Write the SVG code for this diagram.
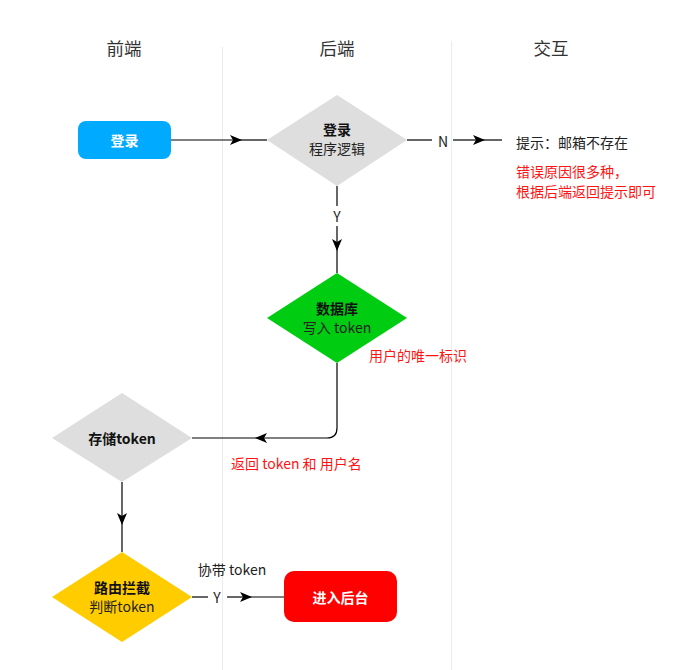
<svg xmlns="http://www.w3.org/2000/svg" width="679" height="670" viewBox="0 0 679 670">
  <defs>
    <marker id="arrow" viewBox="0 0 12 10" refX="10" refY="5" markerWidth="12" markerHeight="10" markerUnits="userSpaceOnUse" orient="auto">
      <path d="M0,0 L12,5 L0,10 L3,5 Z" fill="#000"/>
    </marker>
    <style>
      text { font-family: "Noto Sans CJK SC", "Noto Sans", "DejaVu Sans", sans-serif; font-size: 14px; text-anchor: middle; dominant-baseline: central; fill: #222; }
      .head { font-size: 17.5px; fill: #333; }
      .bold { font-weight: bold; fill: #111; }
      .white { fill: #fff; font-weight: bold; }
      .red { fill: #ff1414; text-anchor: start; }
      .left { text-anchor: start; }
      .lane { stroke: #ececec; stroke-width: 1; }
      .edge { fill: none; stroke: #000; stroke-width: 1.2; }
    </style>
  </defs>

  <rect width="679" height="670" fill="#fff"/>

  <!-- swimlane headers and dividers -->
  <g id="lanes">
    <line class="lane" x1="222.5" y1="47" x2="222.5" y2="670"/>
    <line class="lane" x1="451.5" y1="41" x2="451.5" y2="670"/>
    <text class="head" x="124" y="47">前端</text>
    <text class="head" x="337" y="47">后端</text>
    <text class="head" x="551" y="47">交互</text>
  </g>

  <!-- connectors -->
  <g id="connectors">
    <path class="edge" d="M171,140 H240" marker-end="url(#arrow)"/>
    <path class="edge" d="M240,140 H267"/>

    <path class="edge" d="M407,140 H432"/>
    <path class="edge" d="M453,140 H483" marker-end="url(#arrow)"/>
    <path class="edge" d="M483,140 H502"/>
    <text x="443" y="141">N</text>

    <path class="edge" d="M337,186 V206"/>
    <path class="edge" d="M337,226 V249" marker-end="url(#arrow)"/>
    <path class="edge" d="M337,249 V273"/>
    <text x="337" y="216">Y</text>

    <path class="edge" d="M337,363 V428 Q337,438 327,438 H257" marker-end="url(#arrow)"/>
    <path class="edge" d="M257,438 H192"/>

    <path class="edge" d="M122,482 V523" marker-end="url(#arrow)"/>
    <path class="edge" d="M122,523 V552"/>

    <path class="edge" d="M192,597 H208"/>
    <path class="edge" d="M227,597 H250" marker-end="url(#arrow)"/>
    <path class="edge" d="M250,597 H284"/>
    <text x="217" y="597">Y</text>
    <text x="232" y="569">协带 token</text>
  </g>

  <g id="login-btn">
    <rect x="78" y="121" width="93" height="38" rx="8" fill="#00aaff"/>
    <text class="white" x="124.5" y="140">登录</text>
  </g>

  <g id="login-logic">
    <polygon points="337,95 407,140 337,186 267,140" fill="#dedede"/>
    <text class="bold" x="337" y="129">登录</text>
    <text x="337" y="148">程序逻辑</text>
  </g>

  <g id="tip">
    <text class="left" x="516" y="142">提示：邮箱不存在</text>
    <text class="red" x="516" y="171">错误原因很多种，</text>
    <text class="red" x="516" y="191">根据后端返回提示即可</text>
  </g>

  <g id="db-token">
    <polygon points="337,273 407,318 337,363 267,318" fill="#00cc11"/>
    <text class="bold" x="337" y="308">数据库</text>
    <text x="337" y="327">写入 token</text>
    <text class="red" x="369" y="355">用户的唯一标识</text>
  </g>

  <g id="store-token">
    <polygon points="122,393 192,438 122,482 52,438" fill="#dedede"/>
    <text class="bold" x="122" y="438">存储token</text>
    <text class="red" x="231" y="463">返回 token 和 用户名</text>
  </g>

  <g id="route-guard">
    <polygon points="122,552 192,597 122,642 52,597" fill="#ffcc00"/>
    <text class="bold" x="122" y="587">路由拦截</text>
    <text x="122" y="606">判断token</text>
  </g>

  <g id="enter-admin">
    <rect x="284" y="571" width="113" height="51" rx="10" fill="#ff0000"/>
    <text class="white" x="340.5" y="597">进入后台</text>
  </g>
</svg>
